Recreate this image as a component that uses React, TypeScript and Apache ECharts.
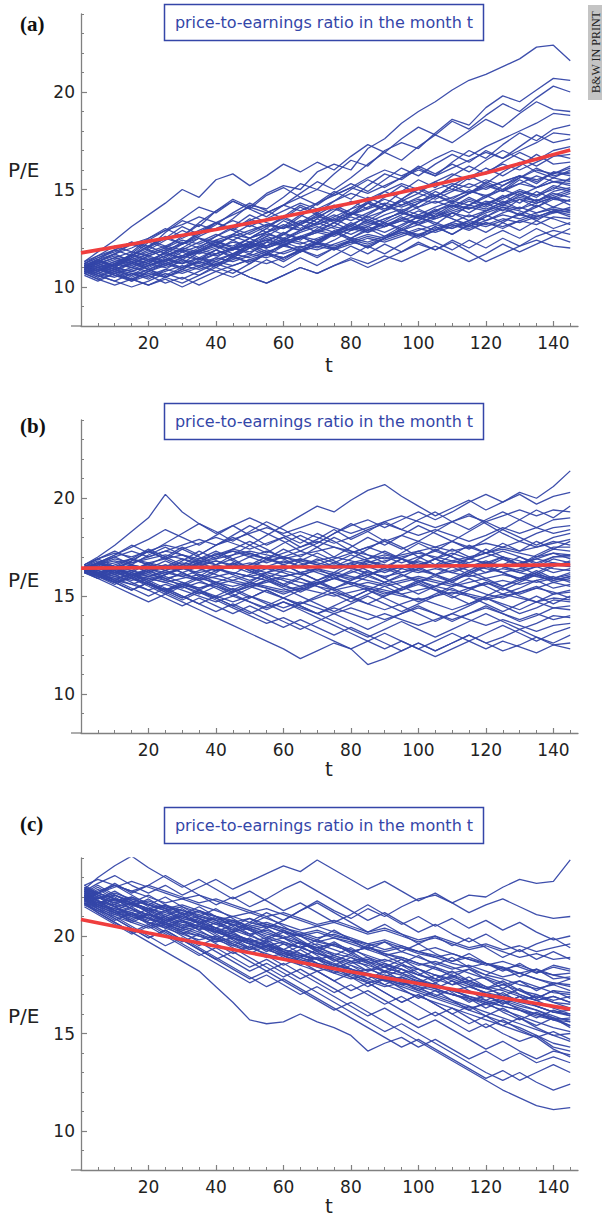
import React, { useEffect, useRef } from "react";
import * as echarts from "echarts";

// months at which each simulated path is read off the figure
const MONTHS = [1, 5, 10, 15, 20, 25, 30, 35, 40, 45, 50, 55, 60, 65, 70, 75, 80, 85, 90, 95, 100, 105, 110, 115, 120, 125, 130, 135, 140, 145];
const X_TICKS = [20, 40, 60, 80, 100, 120, 140];
const X_MINOR = [5, 10, 15, 25, 30, 35, 45, 50, 55, 65, 70, 75, 85, 90, 95, 105, 110, 115, 125, 130, 135, 145];
const Y_TICKS = [10, 15, 20];
const Y_MINOR = [8, 9, 11, 12, 13, 14, 16, 17, 18, 19, 21, 22, 23, 24];
const PANEL_LABELS = ["(a)", "(b)", "(c)"];
const TITLE = "price-to-earnings ratio in the month t";
const Y_NAME = "P/E";
const X_NAME = "t";
const STAMP = "B&W IN PRINT";

// panel (a): simulated P/E paths
const PATHS_A: number[][] = [
  [11.1, 11.4, 11.9, 12.3, 12.0, 12.8, 13.4, 13.1, 13.9, 14.5, 14.1, 14.8, 15.2, 15.0, 15.9, 16.3, 16.0, 17.1, 17.6, 18.4, 19.0, 19.5, 20.1, 20.6, 20.9, 21.3, 21.7, 22.3, 22.4, 21.6],
  [11.0, 10.8, 11.2, 11.6, 12.3, 12.0, 12.6, 13.2, 12.9, 13.5, 14.2, 14.0, 14.6, 15.3, 15.0, 15.8, 16.5, 16.2, 17.0, 17.4, 17.1, 17.9, 18.6, 18.3, 19.2, 19.8, 19.5, 20.1, 20.7, 20.6],
  [11.3, 11.8, 12.4, 13.1, 13.7, 14.3, 15.0, 14.6, 15.5, 15.8, 15.2, 15.7, 16.3, 15.9, 16.4, 16.0, 16.7, 17.3, 16.9, 17.6, 18.2, 17.8, 18.5, 18.1, 18.8, 19.4, 19.0, 19.7, 20.3, 20.0],
  [10.9, 11.3, 11.1, 11.7, 12.4, 12.9, 13.5, 14.1, 13.8, 14.4, 14.0, 13.6, 14.2, 14.8, 15.4, 15.0, 15.6, 16.3, 16.9, 16.5, 17.2, 17.8, 17.4, 18.0, 18.6, 18.2, 18.9, 19.5, 19.1, 19.0],
  [11.0, 10.7, 11.0, 11.5, 11.2, 11.8, 12.3, 12.0, 12.6, 13.1, 13.7, 13.3, 13.0, 13.6, 14.3, 14.9, 14.5, 15.2, 15.8, 15.5, 16.1, 15.7, 16.4, 17.0, 16.6, 17.3, 17.9, 17.5, 18.1, 18.3],
  [11.2, 11.6, 12.1, 11.8, 12.5, 13.0, 12.6, 13.3, 13.9, 14.4, 14.0, 14.7, 15.1, 14.6, 14.2, 14.8, 15.3, 14.9, 15.5, 16.1, 15.7, 16.3, 16.8, 16.4, 17.0, 16.6, 17.2, 17.8, 17.4, 17.6],
  [10.8, 10.5, 10.9, 10.6, 11.1, 11.5, 11.2, 11.8, 12.3, 12.0, 12.5, 13.0, 12.7, 13.3, 13.8, 13.4, 14.0, 14.6, 14.2, 14.9, 15.5, 15.1, 15.7, 16.2, 15.8, 16.4, 16.9, 16.5, 17.0, 17.2],
  [11.1, 11.4, 11.0, 11.6, 12.1, 11.7, 12.2, 12.8, 13.3, 12.9, 13.5, 13.1, 13.6, 14.2, 13.8, 14.4, 15.0, 15.5, 15.1, 15.6, 16.2, 15.8, 16.3, 15.9, 16.5, 17.0, 16.6, 16.2, 16.7, 16.8],
  [10.7, 11.0, 10.6, 10.3, 10.8, 11.2, 10.9, 11.4, 11.9, 12.4, 12.0, 12.6, 13.1, 13.7, 13.3, 13.9, 14.4, 14.0, 14.6, 15.2, 14.8, 15.4, 15.0, 15.6, 16.1, 15.7, 16.2, 16.8, 16.3, 16.4],
  [11.0, 11.3, 11.7, 12.2, 11.9, 12.4, 12.9, 12.5, 12.1, 12.7, 13.2, 12.8, 13.4, 13.0, 13.5, 14.1, 13.7, 14.3, 14.9, 14.5, 15.0, 14.6, 15.2, 15.7, 15.3, 15.9, 16.4, 15.9, 15.6, 16.0],
  [10.9, 10.6, 10.3, 10.7, 10.4, 10.9, 11.4, 11.0, 11.5, 12.0, 11.7, 12.3, 12.8, 12.4, 13.0, 13.5, 13.1, 13.7, 14.2, 13.8, 14.3, 14.9, 14.5, 15.0, 14.6, 15.2, 15.7, 15.3, 15.9, 15.7],
  [11.2, 11.5, 11.9, 11.6, 12.0, 12.5, 13.1, 12.7, 13.2, 13.8, 14.3, 13.9, 13.5, 14.1, 13.7, 14.2, 13.8, 14.4, 14.0, 14.5, 15.1, 14.7, 14.3, 14.8, 15.3, 14.9, 15.5, 15.1, 15.6, 15.4],
  [10.8, 11.1, 10.8, 11.2, 10.9, 10.5, 10.9, 11.3, 11.0, 11.5, 12.0, 11.6, 12.1, 12.6, 12.2, 12.8, 13.3, 12.9, 13.4, 13.9, 13.5, 14.0, 13.6, 14.2, 14.7, 14.3, 14.8, 14.4, 14.9, 15.1],
  [11.0, 11.4, 11.1, 11.6, 12.1, 12.6, 12.2, 12.7, 13.3, 12.9, 12.5, 13.0, 13.6, 13.2, 13.7, 13.3, 13.8, 13.4, 13.9, 14.4, 14.0, 13.6, 14.1, 14.6, 14.2, 14.7, 14.3, 14.9, 14.5, 14.8],
  [10.6, 10.3, 10.7, 10.4, 10.1, 10.5, 10.9, 10.6, 11.1, 11.6, 11.2, 11.7, 12.2, 11.8, 12.3, 12.9, 12.5, 13.0, 12.6, 13.1, 13.6, 13.2, 13.8, 13.4, 13.9, 14.4, 14.0, 14.5, 14.1, 14.5],
  [11.1, 10.8, 11.2, 11.7, 11.3, 11.8, 11.4, 11.9, 12.4, 12.0, 12.5, 12.1, 12.7, 13.2, 12.8, 13.3, 12.9, 13.5, 13.1, 13.6, 13.2, 13.7, 14.2, 13.8, 14.3, 13.9, 14.5, 14.1, 14.6, 14.2],
  [10.9, 11.2, 10.9, 10.5, 10.9, 11.3, 11.8, 11.4, 11.9, 11.5, 12.0, 12.5, 12.1, 12.6, 12.2, 12.7, 13.2, 12.8, 13.3, 12.9, 13.4, 13.9, 13.5, 13.1, 13.6, 14.1, 13.7, 14.2, 13.8, 13.9],
  [10.7, 10.4, 10.1, 10.4, 10.8, 10.5, 10.2, 10.6, 11.0, 10.7, 11.2, 11.7, 11.3, 11.8, 12.3, 11.9, 12.4, 12.0, 12.5, 13.0, 12.6, 13.1, 12.7, 13.2, 12.8, 13.3, 13.8, 13.4, 13.9, 13.6],
  [11.0, 11.3, 11.7, 11.3, 11.0, 11.4, 11.9, 11.5, 11.1, 11.6, 12.1, 11.7, 12.2, 11.8, 12.3, 12.8, 12.4, 12.0, 12.5, 13.0, 12.6, 13.1, 12.7, 13.2, 13.7, 13.3, 12.9, 13.4, 13.0, 13.3],
  [10.8, 10.5, 10.8, 10.4, 10.1, 10.4, 10.0, 10.4, 10.8, 10.5, 10.9, 11.4, 11.0, 11.5, 11.1, 11.6, 12.1, 11.7, 12.2, 11.8, 12.3, 11.9, 12.4, 12.0, 12.5, 12.9, 12.5, 13.0, 12.6, 13.0],
  [11.1, 11.4, 11.0, 11.5, 11.9, 11.5, 12.0, 12.5, 12.1, 11.7, 12.2, 11.8, 11.4, 11.9, 11.5, 12.0, 11.6, 12.1, 11.7, 12.2, 12.7, 12.3, 11.9, 12.4, 12.0, 12.5, 12.1, 12.6, 12.9, 12.7],
  [10.7, 10.4, 10.7, 10.3, 10.6, 10.2, 10.5, 10.1, 10.5, 10.9, 10.5, 10.2, 10.6, 11.0, 10.7, 11.1, 11.5, 11.2, 11.6, 11.3, 11.7, 12.1, 11.7, 11.3, 11.7, 12.2, 11.8, 12.2, 12.6, 12.3],
  [10.9, 10.6, 10.3, 10.0, 10.3, 10.7, 10.4, 10.8, 11.2, 10.9, 10.5, 10.2, 10.6, 11.0, 10.7, 11.1, 11.4, 11.0, 11.4, 11.8, 12.2, 11.9, 12.3, 11.8, 11.3, 11.7, 12.1, 12.4, 12.1, 12.0],
  [11.0, 11.2, 10.9, 11.3, 10.9, 10.6, 11.0, 11.5, 11.1, 11.6, 12.2, 12.8, 12.4, 12.9, 13.5, 13.1, 13.7, 14.3, 13.9, 14.5, 14.1, 14.6, 15.2, 14.8, 15.4, 15.0, 15.6, 16.1, 15.7, 15.9],
  [10.9, 11.1, 11.4, 11.2, 11.6, 11.3, 11.0, 11.3, 11.7, 12.0, 11.8, 12.1, 12.5, 12.3, 12.0, 12.4, 12.9, 13.1, 12.8, 13.2, 13.6, 13.3, 13.0, 13.4, 13.8, 14.1, 13.9, 13.6, 13.9, 14.0],
  [11.2, 11.0, 10.7, 11.0, 11.4, 11.7, 11.5, 11.9, 12.2, 11.9, 12.3, 12.7, 12.5, 12.9, 13.3, 13.0, 12.7, 13.1, 13.5, 13.8, 13.5, 13.9, 14.3, 14.0, 14.4, 14.2, 14.7, 14.4, 14.8, 14.6],
  [10.8, 11.0, 11.3, 11.6, 11.4, 11.1, 11.5, 11.8, 12.2, 12.6, 12.3, 12.0, 12.4, 12.8, 13.1, 12.8, 13.2, 13.6, 13.3, 13.7, 14.1, 14.4, 14.1, 14.5, 14.2, 14.6, 15.0, 14.7, 15.2, 15.0],
  [11.1, 11.3, 11.0, 10.8, 11.1, 11.4, 11.2, 11.5, 11.3, 11.7, 12.1, 12.4, 12.2, 12.5, 12.9, 13.3, 13.6, 13.3, 13.7, 14.0, 13.7, 14.1, 14.4, 14.2, 14.6, 15.0, 14.7, 15.1, 15.4, 15.3],
  [11.0, 10.8, 11.1, 11.5, 11.8, 12.1, 11.9, 12.3, 12.7, 12.4, 12.8, 13.2, 13.0, 13.4, 13.2, 13.6, 14.0, 14.3, 14.0, 14.4, 14.8, 14.5, 14.9, 15.3, 15.0, 15.4, 15.7, 15.4, 15.9, 15.8],
  [10.9, 11.2, 11.5, 11.3, 11.7, 12.0, 12.4, 12.2, 12.6, 13.0, 12.7, 13.1, 13.5, 13.2, 13.6, 14.0, 13.7, 14.1, 14.5, 14.2, 14.6, 15.0, 15.3, 15.1, 15.5, 15.2, 15.6, 16.0, 15.8, 16.2],
  [10.7, 10.9, 10.6, 10.4, 10.7, 10.5, 10.8, 11.1, 10.8, 11.1, 11.4, 11.2, 11.5, 11.9, 11.6, 12.0, 12.3, 12.1, 12.5, 12.8, 12.5, 12.9, 13.2, 12.9, 13.3, 13.0, 13.4, 13.2, 13.6, 13.5],
  [11.0, 11.3, 11.1, 11.4, 11.2, 11.6, 12.0, 11.8, 12.1, 11.9, 12.2, 12.6, 12.3, 12.0, 12.4, 12.8, 12.5, 12.9, 13.3, 13.0, 13.4, 13.8, 13.5, 13.2, 13.6, 14.0, 13.7, 14.1, 14.5, 14.4],
  [11.3, 11.6, 11.9, 12.3, 12.1, 12.5, 12.2, 12.6, 13.0, 13.4, 13.1, 13.5, 13.9, 14.3, 14.0, 14.4, 14.8, 14.5, 14.9, 15.3, 15.0, 15.4, 15.8, 15.5, 15.9, 16.3, 16.0, 16.4, 16.8, 16.6],
  [11.1, 11.4, 11.7, 12.0, 12.4, 12.1, 12.5, 12.9, 13.3, 13.0, 13.4, 13.8, 14.2, 13.9, 14.3, 14.7, 15.1, 14.8, 15.2, 15.6, 16.0, 15.7, 16.1, 16.5, 16.9, 16.6, 17.0, 17.4, 17.9, 17.8],
  [10.8, 10.6, 10.9, 10.7, 10.5, 10.8, 11.1, 10.9, 11.2, 11.5, 11.3, 11.7, 11.5, 11.9, 12.2, 12.0, 12.4, 12.7, 12.5, 12.9, 13.2, 12.9, 13.3, 13.7, 13.4, 13.8, 14.1, 13.8, 14.0, 13.8],
  [11.0, 11.2, 11.5, 11.2, 11.6, 11.9, 11.6, 12.0, 12.3, 12.1, 12.5, 12.8, 13.2, 12.9, 13.3, 13.7, 13.4, 13.8, 14.2, 13.9, 14.3, 14.7, 14.4, 14.8, 15.2, 14.9, 15.3, 15.7, 15.4, 15.5],
  [11.2, 11.5, 11.8, 12.2, 12.5, 12.9, 13.2, 13.6, 13.3, 13.7, 14.1, 13.8, 14.2, 14.6, 15.0, 14.7, 15.1, 15.6, 16.0, 15.7, 16.1, 16.6, 17.0, 16.7, 17.2, 17.6, 18.0, 18.4, 18.9, 18.8],
  [10.9, 10.7, 11.0, 10.8, 11.1, 11.4, 11.2, 11.5, 11.9, 11.6, 12.0, 12.3, 12.1, 12.5, 12.8, 12.6, 13.0, 13.4, 13.1, 13.5, 13.9, 13.6, 14.0, 14.4, 14.1, 14.5, 14.9, 14.6, 15.1, 14.9],
  [11.0, 10.8, 11.1, 11.3, 11.1, 11.4, 11.6, 11.4, 11.7, 12.0, 12.2, 12.0, 12.3, 12.6, 12.4, 12.7, 13.0, 12.8, 13.1, 13.4, 13.2, 13.5, 13.8, 13.6, 13.9, 14.2, 14.0, 14.3, 14.6, 14.4],
  [10.8, 11.0, 10.8, 10.6, 10.9, 11.2, 11.0, 11.3, 11.1, 11.4, 11.7, 11.5, 11.8, 12.1, 11.9, 12.2, 12.5, 12.3, 12.6, 12.9, 12.7, 13.0, 13.3, 13.1, 13.4, 13.7, 13.5, 13.8, 14.1, 13.9],
  [11.1, 11.3, 11.6, 11.4, 11.7, 12.0, 11.8, 12.1, 12.4, 12.7, 12.5, 12.8, 13.1, 12.9, 13.2, 13.5, 13.8, 13.6, 13.9, 14.2, 14.5, 14.3, 14.6, 14.9, 14.7, 15.0, 15.3, 15.1, 15.4, 15.2],
  [10.9, 11.1, 10.9, 11.2, 11.5, 11.3, 11.6, 11.9, 11.7, 12.0, 12.3, 12.1, 12.4, 12.2, 12.5, 12.8, 13.1, 12.9, 13.2, 13.5, 13.3, 13.6, 13.9, 14.2, 14.0, 14.3, 14.6, 14.4, 14.7, 15.0],
  [11.2, 11.0, 11.3, 11.1, 11.4, 11.2, 11.5, 11.8, 11.6, 11.9, 12.2, 12.0, 12.3, 12.6, 12.9, 12.7, 13.0, 13.3, 13.1, 13.4, 13.7, 13.5, 13.8, 14.1, 13.9, 14.2, 14.5, 14.3, 14.6, 14.9],
  [10.7, 10.9, 10.7, 10.9, 11.2, 11.0, 11.3, 11.1, 11.4, 11.7, 11.5, 11.8, 12.1, 11.9, 12.2, 12.0, 12.3, 12.6, 12.4, 12.7, 13.0, 12.8, 13.1, 13.4, 13.2, 13.5, 13.3, 13.6, 13.9, 13.7],
  [11.0, 11.2, 11.5, 11.8, 11.6, 11.9, 12.2, 12.5, 12.3, 12.6, 12.9, 13.2, 13.0, 13.3, 13.6, 13.4, 13.7, 14.0, 14.3, 14.1, 14.4, 14.7, 15.0, 14.8, 15.1, 15.4, 15.7, 15.5, 15.8, 16.1],
  [10.9, 10.7, 10.5, 10.8, 10.6, 10.9, 10.7, 11.0, 11.3, 11.1, 11.4, 11.7, 11.5, 11.8, 12.1, 11.9, 12.2, 12.5, 12.3, 12.6, 12.9, 13.2, 13.0, 13.3, 13.1, 13.4, 13.7, 13.5, 13.8, 14.1],
  [11.1, 10.9, 11.2, 11.0, 11.3, 11.6, 11.9, 11.7, 12.0, 12.3, 12.1, 12.4, 12.7, 12.5, 12.8, 13.1, 12.9, 13.2, 13.5, 13.8, 13.6, 13.9, 14.2, 14.0, 14.3, 14.6, 14.9, 14.7, 15.0, 15.6],
  [10.8, 11.0, 11.2, 11.0, 10.8, 11.1, 11.4, 11.2, 11.5, 11.3, 11.6, 11.9, 11.7, 12.0, 12.3, 12.1, 12.4, 12.2, 12.5, 12.8, 12.6, 12.9, 13.2, 13.0, 13.3, 13.1, 13.4, 13.7, 13.5, 13.2],
];
const MEAN_T_A = [0, 20, 40, 60, 80, 100, 120, 145];
const MEAN_A = [11.75, 12.35, 12.95, 13.6, 14.3, 15.05, 15.85, 17.02];

// panel (b)
const PATHS_B: number[][] = [
  [16.4, 16.7, 16.3, 16.8, 17.3, 16.9, 17.4, 17.0, 16.6, 17.1, 17.6, 17.2, 17.7, 18.1, 17.7, 18.2, 18.6, 18.9, 18.5, 18.9, 19.3, 18.9, 19.3, 19.8, 20.2, 19.8, 20.3, 20.0, 20.6, 21.4],
  [16.5, 16.9, 17.3, 16.9, 17.4, 17.0, 16.6, 17.1, 17.6, 18.0, 17.6, 18.1, 18.6, 19.1, 19.6, 19.3, 19.9, 20.4, 20.7, 20.1, 19.6, 19.1, 19.5, 19.9, 19.4, 19.8, 20.2, 19.7, 20.1, 20.3],
  [16.6, 17.0, 17.6, 18.3, 19.0, 20.2, 19.3, 18.7, 18.2, 18.6, 18.1, 17.6, 18.0, 17.5, 17.9, 18.4, 17.9, 18.3, 18.8, 18.4, 18.9, 19.3, 18.8, 18.4, 18.9, 19.3, 18.9, 19.4, 19.0, 19.6],
  [16.3, 16.7, 17.1, 17.6, 17.2, 17.7, 18.2, 18.7, 18.3, 17.8, 18.3, 18.8, 18.4, 17.9, 17.5, 17.0, 17.5, 18.0, 17.6, 18.1, 18.6, 18.2, 17.8, 18.3, 18.8, 18.4, 18.9, 18.5, 18.9, 19.0],
  [16.4, 16.1, 16.5, 16.9, 16.6, 17.0, 17.5, 17.1, 17.6, 18.1, 18.6, 18.2, 17.8, 17.3, 17.7, 18.2, 18.7, 18.3, 17.8, 17.4, 17.8, 18.3, 18.8, 19.2, 18.7, 18.2, 17.8, 18.2, 18.5, 18.6],
  [16.2, 16.5, 16.1, 16.6, 17.1, 17.5, 17.1, 16.7, 17.2, 16.8, 16.4, 16.9, 17.4, 17.0, 17.5, 18.0, 17.6, 17.1, 16.7, 17.2, 17.7, 17.3, 17.8, 17.4, 17.9, 18.4, 18.0, 17.6, 18.0, 18.2],
  [16.5, 16.2, 15.8, 16.2, 16.7, 16.3, 16.8, 17.3, 16.9, 17.4, 17.8, 17.4, 16.9, 16.5, 16.9, 16.5, 16.9, 17.4, 17.9, 17.5, 17.0, 16.6, 17.1, 17.6, 17.2, 17.7, 17.3, 17.8, 17.4, 17.8],
  [16.3, 16.6, 17.0, 16.6, 16.2, 16.6, 16.2, 15.8, 16.2, 16.7, 16.3, 15.9, 16.3, 16.8, 17.2, 16.8, 16.4, 16.8, 16.4, 16.9, 17.3, 16.9, 16.5, 16.9, 17.4, 17.0, 16.6, 17.1, 17.5, 17.5],
  [16.4, 16.0, 15.6, 16.0, 15.6, 15.2, 15.6, 16.0, 16.5, 16.1, 16.6, 17.0, 16.6, 16.2, 15.8, 16.2, 16.7, 16.3, 15.9, 16.4, 16.9, 17.4, 17.0, 16.6, 16.2, 16.6, 17.0, 16.6, 17.0, 17.1],
  [16.5, 16.8, 16.4, 16.0, 16.4, 16.8, 16.4, 16.9, 17.3, 16.9, 16.4, 16.0, 15.6, 16.0, 16.4, 16.0, 15.6, 16.0, 16.5, 16.9, 16.5, 16.1, 16.5, 16.1, 16.5, 16.9, 16.5, 16.1, 16.5, 16.8],
  [16.3, 16.0, 16.4, 16.8, 17.3, 16.9, 16.5, 16.0, 15.6, 15.2, 15.6, 16.0, 15.6, 15.2, 15.6, 16.1, 16.5, 16.1, 15.7, 15.3, 15.7, 16.1, 15.7, 16.2, 16.6, 16.2, 15.8, 16.2, 16.6, 16.5],
  [16.4, 16.1, 15.7, 15.3, 15.7, 15.3, 14.9, 15.3, 15.7, 15.3, 15.7, 16.2, 16.6, 16.2, 15.8, 15.4, 15.8, 16.3, 15.9, 15.5, 15.1, 15.5, 15.9, 16.3, 15.9, 15.5, 15.9, 16.3, 15.9, 16.2],
  [16.6, 16.9, 16.5, 16.1, 15.7, 16.1, 16.5, 16.1, 15.7, 15.3, 14.9, 15.3, 14.9, 15.3, 15.7, 15.3, 14.9, 15.3, 15.7, 16.1, 15.7, 15.3, 14.9, 15.3, 15.7, 15.3, 15.7, 16.1, 15.7, 15.9],
  [16.2, 15.9, 16.3, 15.9, 15.5, 15.1, 15.5, 15.9, 16.3, 16.7, 16.3, 15.9, 15.5, 15.9, 15.5, 15.1, 14.7, 15.1, 15.5, 15.1, 14.7, 15.1, 15.5, 15.9, 15.5, 15.1, 15.4, 15.8, 15.4, 15.6],
  [16.5, 16.2, 15.8, 15.4, 15.0, 15.4, 15.0, 14.6, 15.0, 15.4, 15.0, 14.6, 14.2, 14.6, 15.0, 15.4, 15.0, 14.6, 15.0, 15.4, 15.8, 15.4, 15.0, 14.6, 15.0, 15.4, 15.0, 14.7, 15.1, 15.3],
  [16.3, 16.6, 16.2, 16.6, 16.2, 15.8, 16.2, 15.8, 15.4, 15.0, 15.4, 15.8, 15.4, 15.0, 14.6, 14.2, 14.6, 15.0, 14.6, 14.2, 14.6, 15.0, 15.4, 15.0, 14.6, 14.2, 14.6, 15.0, 14.6, 15.0],
  [16.4, 16.1, 15.7, 15.3, 15.7, 15.3, 15.7, 15.3, 14.9, 14.5, 14.1, 14.5, 14.9, 14.5, 14.1, 14.5, 14.9, 15.3, 14.9, 14.5, 14.1, 13.7, 14.1, 14.5, 14.9, 14.5, 14.1, 14.4, 14.8, 14.7],
  [16.2, 16.5, 16.1, 15.7, 15.3, 14.9, 14.5, 14.9, 14.5, 14.1, 14.5, 14.1, 13.7, 13.3, 13.7, 14.1, 13.7, 13.3, 13.7, 14.1, 14.5, 14.1, 13.7, 14.1, 14.5, 14.1, 13.7, 14.0, 14.4, 14.3],
  [16.5, 16.1, 15.7, 16.1, 15.7, 15.3, 14.9, 15.3, 14.9, 14.5, 14.9, 15.3, 14.9, 14.5, 14.1, 13.7, 13.3, 12.9, 13.3, 13.7, 13.3, 12.9, 13.3, 13.7, 14.1, 13.7, 13.3, 13.6, 14.0, 13.9],
  [16.3, 15.9, 15.5, 15.1, 14.7, 15.1, 14.7, 14.3, 13.9, 13.5, 13.1, 12.7, 12.3, 11.8, 12.2, 12.6, 12.3, 12.7, 13.1, 12.7, 12.3, 12.7, 13.1, 12.7, 13.1, 13.5, 13.1, 12.7, 13.1, 13.4],
  [16.4, 16.0, 16.4, 16.0, 15.6, 15.2, 14.8, 15.2, 14.8, 14.4, 14.0, 13.6, 13.9, 13.5, 13.1, 12.7, 12.3, 11.5, 11.8, 12.2, 12.6, 12.2, 12.6, 13.0, 12.6, 12.9, 13.3, 12.9, 12.6, 13.0],
  [16.6, 16.2, 15.8, 16.2, 15.8, 15.4, 15.0, 14.6, 14.2, 14.6, 14.2, 13.8, 13.4, 13.8, 13.4, 13.0, 13.4, 13.0, 12.6, 12.2, 12.6, 12.2, 12.6, 13.0, 12.6, 12.2, 12.5, 12.9, 12.5, 12.6],
  [16.4, 16.7, 16.3, 15.9, 16.3, 15.9, 15.5, 15.1, 15.5, 15.1, 14.7, 14.3, 14.7, 14.3, 13.9, 13.5, 13.1, 12.7, 12.3, 12.7, 12.3, 11.9, 12.3, 12.7, 12.3, 12.7, 12.4, 12.1, 12.5, 12.3],
  [16.3, 16.7, 17.1, 17.5, 17.9, 18.4, 18.0, 17.6, 18.1, 18.6, 19.0, 18.6, 18.1, 17.7, 18.2, 17.8, 17.3, 16.9, 17.3, 16.9, 16.5, 16.9, 17.4, 17.0, 16.6, 17.0, 16.6, 17.0, 17.4, 17.3],
  [16.4, 16.2, 16.5, 16.3, 16.0, 16.3, 16.6, 16.4, 16.1, 15.8, 16.1, 16.4, 16.2, 15.9, 15.6, 15.9, 16.3, 16.0, 15.7, 16.0, 16.4, 16.1, 15.8, 16.2, 16.5, 16.2, 15.9, 16.2, 15.8, 16.0],
  [16.5, 16.3, 16.0, 16.3, 16.7, 16.5, 16.9, 16.6, 16.3, 16.6, 17.0, 17.3, 17.0, 16.7, 16.4, 16.7, 17.1, 16.8, 16.5, 16.2, 16.5, 16.9, 16.6, 16.3, 16.7, 17.0, 16.8, 16.5, 16.9, 16.7],
  [16.3, 16.1, 15.8, 15.6, 15.9, 15.7, 15.4, 15.7, 15.5, 15.2, 15.5, 15.8, 15.5, 15.3, 15.6, 15.9, 15.6, 15.3, 15.0, 15.3, 15.6, 15.3, 15.1, 15.4, 15.1, 14.9, 15.2, 15.5, 15.1, 15.2],
  [16.4, 16.6, 16.9, 16.7, 17.0, 17.3, 17.1, 16.8, 17.1, 17.4, 17.2, 16.9, 17.2, 17.5, 17.8, 17.5, 17.2, 17.5, 17.8, 18.1, 17.8, 17.5, 17.8, 17.5, 17.2, 17.5, 17.8, 17.5, 17.8, 17.6],
  [16.2, 16.0, 15.7, 15.9, 15.6, 15.3, 15.5, 15.2, 14.9, 15.2, 15.5, 15.2, 14.9, 14.6, 14.9, 15.2, 14.9, 14.6, 14.3, 14.6, 14.9, 14.6, 14.3, 14.6, 14.9, 14.6, 14.3, 14.7, 14.4, 14.5],
  [16.6, 16.9, 17.2, 17.0, 17.3, 17.6, 17.4, 17.7, 18.0, 17.7, 17.4, 17.7, 18.0, 18.3, 18.0, 17.7, 18.0, 18.4, 18.7, 18.4, 18.1, 18.4, 18.1, 17.8, 18.1, 18.5, 18.2, 18.5, 18.2, 18.4],
  [16.4, 16.1, 16.4, 16.1, 15.8, 16.1, 16.4, 16.7, 16.4, 16.1, 15.8, 16.1, 15.8, 15.5, 15.8, 16.1, 15.8, 16.1, 16.4, 16.1, 15.8, 15.5, 15.8, 16.1, 15.8, 15.5, 15.8, 16.1, 15.9, 15.8],
  [16.3, 16.5, 16.2, 15.9, 16.2, 16.5, 16.2, 16.5, 16.8, 16.5, 16.2, 16.5, 16.8, 16.5, 16.2, 15.9, 16.2, 16.5, 16.2, 16.5, 16.8, 16.5, 16.2, 16.5, 16.8, 16.5, 16.2, 16.5, 16.2, 16.4],
  [16.5, 16.2, 15.9, 15.6, 15.3, 15.6, 15.3, 15.0, 14.7, 15.0, 14.7, 14.4, 14.7, 14.4, 14.1, 14.4, 14.1, 13.8, 14.1, 13.8, 13.5, 13.8, 14.1, 13.8, 13.5, 13.8, 13.5, 13.2, 13.5, 13.6],
  [16.4, 16.7, 16.4, 16.1, 16.4, 16.1, 16.4, 16.7, 17.0, 17.3, 17.0, 16.7, 17.0, 17.3, 17.0, 16.7, 16.4, 16.7, 17.0, 16.7, 17.0, 17.3, 17.0, 16.7, 17.0, 17.3, 17.0, 16.7, 17.0, 17.0],
  [16.3, 16.0, 15.7, 16.0, 16.3, 16.0, 15.7, 15.4, 15.7, 16.0, 15.7, 15.4, 15.1, 15.4, 15.7, 15.4, 15.7, 15.4, 15.1, 15.4, 15.7, 16.0, 15.7, 15.4, 15.7, 15.4, 15.1, 15.4, 15.7, 15.5],
  [16.4, 16.7, 17.0, 17.3, 17.0, 17.3, 17.6, 17.9, 17.6, 17.9, 18.2, 18.5, 18.2, 18.5, 18.8, 18.5, 18.2, 18.5, 18.8, 19.1, 18.8, 18.5, 18.8, 19.1, 18.8, 19.1, 19.4, 19.1, 19.4, 19.3],
  [16.2, 15.9, 16.2, 15.9, 15.6, 15.3, 15.6, 15.3, 15.0, 14.7, 15.0, 14.7, 14.4, 14.7, 14.4, 14.1, 14.4, 14.1, 13.8, 14.1, 14.4, 14.1, 13.8, 14.1, 14.4, 14.1, 13.8, 14.1, 13.8, 14.0],
  [16.6, 16.3, 16.6, 16.9, 16.6, 16.3, 16.0, 16.3, 16.6, 16.9, 17.2, 16.9, 16.6, 16.9, 16.6, 16.9, 17.2, 17.5, 17.2, 16.9, 16.6, 16.9, 17.2, 16.9, 17.2, 16.9, 16.6, 16.9, 17.2, 16.9],
  [16.4, 16.2, 16.4, 16.6, 16.4, 16.2, 16.4, 16.6, 16.8, 16.6, 16.4, 16.2, 16.0, 16.2, 16.4, 16.6, 16.4, 16.2, 16.0, 16.2, 16.4, 16.6, 16.8, 16.6, 16.4, 16.2, 16.4, 16.6, 16.4, 16.3],
  [16.3, 16.1, 15.9, 16.1, 15.9, 15.7, 15.9, 16.1, 15.9, 15.7, 15.5, 15.7, 15.9, 15.7, 15.5, 15.3, 15.5, 15.7, 15.5, 15.7, 15.9, 15.7, 15.5, 15.7, 15.9, 16.1, 15.9, 15.7, 15.9, 16.1],
  [16.5, 16.7, 16.5, 16.7, 16.9, 17.1, 16.9, 16.7, 16.9, 17.1, 17.3, 17.1, 16.9, 17.1, 17.3, 17.5, 17.3, 17.1, 16.9, 17.1, 17.3, 17.5, 17.3, 17.5, 17.7, 17.5, 17.3, 17.5, 17.7, 17.9],
  [16.4, 16.2, 16.0, 15.8, 16.0, 15.8, 15.6, 15.4, 15.6, 15.8, 15.6, 15.4, 15.2, 15.4, 15.2, 15.0, 15.2, 15.4, 15.2, 15.0, 14.8, 15.0, 15.2, 15.0, 14.8, 15.0, 15.2, 15.4, 15.2, 14.9],
  [16.3, 16.5, 16.3, 16.1, 16.3, 16.5, 16.7, 16.5, 16.3, 16.5, 16.7, 16.5, 16.3, 16.1, 16.3, 16.1, 15.9, 16.1, 16.3, 16.5, 16.3, 16.1, 16.3, 16.5, 16.7, 16.5, 16.7, 16.9, 16.7, 16.5],
  [16.4, 16.6, 16.8, 16.6, 16.4, 16.6, 16.4, 16.2, 16.4, 16.2, 16.0, 16.2, 16.4, 16.6, 16.8, 17.0, 16.8, 16.6, 16.8, 17.0, 17.2, 17.0, 16.8, 17.0, 17.2, 17.4, 17.2, 17.0, 17.2, 17.1],
  [16.5, 16.3, 16.1, 16.3, 16.1, 15.9, 16.1, 15.9, 15.7, 15.5, 15.7, 15.5, 15.3, 15.5, 15.7, 15.9, 15.7, 15.5, 15.3, 15.1, 15.3, 15.5, 15.3, 15.1, 14.9, 15.1, 14.9, 14.7, 14.9, 14.8],
  [16.2, 16.4, 16.2, 16.4, 16.6, 16.4, 16.6, 16.8, 16.6, 16.4, 16.6, 16.8, 17.0, 16.8, 16.6, 16.4, 16.6, 16.8, 16.6, 16.4, 16.2, 16.4, 16.2, 16.0, 16.2, 16.4, 16.2, 16.0, 15.8, 16.0],
  [16.4, 16.2, 16.4, 16.2, 16.0, 16.2, 16.0, 15.8, 16.0, 16.2, 16.0, 15.8, 16.0, 16.2, 16.4, 16.2, 16.0, 15.8, 15.6, 15.8, 16.0, 15.8, 15.6, 15.4, 15.6, 15.8, 15.6, 15.8, 16.0, 15.7],
  [16.3, 16.5, 16.7, 16.9, 16.7, 16.9, 17.1, 16.9, 17.1, 17.3, 17.1, 16.9, 16.7, 16.9, 16.7, 16.5, 16.7, 16.9, 17.1, 16.9, 16.7, 16.5, 16.7, 16.9, 16.7, 16.5, 16.3, 16.5, 16.7, 16.6],
];
const MEAN_T_B = [0, 40, 80, 120, 145];
const MEAN_B = [16.43, 16.47, 16.5, 16.56, 16.6];

// panel (c)
const PATHS_C: number[][] = [
  [22.1, 22.5, 22.0, 21.5, 21.9, 21.4, 20.9, 21.3, 20.8, 20.3, 20.7, 21.2, 20.8, 21.3, 21.8, 21.3, 20.9, 21.4, 21.0, 21.5, 21.9, 22.1, 21.7, 22.1, 22.0, 22.5, 22.9, 22.7, 22.8, 23.9],
  [22.3, 22.7, 23.1, 22.6, 22.2, 22.6, 22.1, 22.5, 22.9, 22.4, 22.8, 23.2, 23.6, 23.3, 23.9, 23.4, 22.9, 22.4, 22.8, 22.3, 21.8, 22.2, 21.7, 21.2, 21.6, 21.9, 21.5, 21.1, 20.9, 21.0],
  [22.4, 23.0, 23.6, 24.1, 23.5, 23.0, 22.5, 22.9, 22.4, 21.9, 22.3, 21.8, 21.3, 21.7, 21.2, 20.7, 21.1, 21.6, 21.1, 20.6, 21.0, 20.5, 20.9, 20.4, 20.8, 20.3, 20.7, 20.2, 19.8, 20.0],
  [21.8, 22.2, 22.7, 22.2, 22.6, 23.1, 22.6, 22.1, 21.6, 22.0, 21.5, 21.9, 22.4, 22.8, 22.3, 21.8, 21.3, 20.8, 21.2, 20.7, 20.2, 20.6, 20.1, 19.7, 20.1, 19.6, 19.2, 19.6, 19.9, 19.4],
  [22.0, 21.6, 22.1, 21.7, 21.2, 21.6, 21.1, 21.5, 21.0, 20.5, 20.9, 20.4, 20.8, 21.3, 21.7, 21.2, 20.7, 20.2, 20.6, 20.1, 19.6, 20.0, 19.5, 19.9, 19.4, 18.9, 19.3, 18.8, 19.2, 18.8],
  [22.2, 22.6, 22.1, 21.7, 22.1, 21.6, 21.1, 20.6, 21.0, 20.5, 20.0, 20.4, 19.9, 19.4, 19.8, 20.3, 19.8, 19.3, 19.7, 19.2, 19.6, 19.1, 18.7, 19.1, 18.6, 18.2, 18.6, 18.1, 18.5, 18.3],
  [21.6, 22.0, 21.5, 21.1, 20.6, 21.0, 21.4, 20.9, 20.4, 20.8, 20.3, 19.8, 20.2, 19.7, 19.2, 19.6, 19.1, 19.5, 19.0, 18.6, 19.0, 18.5, 18.9, 18.4, 18.0, 18.4, 17.9, 18.3, 17.8, 17.9],
  [22.5, 22.1, 21.6, 22.0, 21.5, 21.0, 20.5, 20.9, 20.4, 19.9, 19.4, 19.8, 19.3, 19.7, 19.2, 18.7, 19.1, 18.6, 18.1, 18.5, 18.0, 18.4, 17.9, 18.3, 17.8, 17.3, 17.7, 17.2, 17.6, 17.5],
  [21.9, 21.5, 21.9, 21.4, 20.9, 21.3, 20.8, 20.3, 20.7, 20.2, 20.6, 21.0, 20.5, 20.0, 19.5, 19.0, 19.4, 18.9, 18.4, 18.8, 18.3, 17.8, 18.2, 17.7, 17.3, 17.7, 17.2, 16.8, 17.2, 17.1],
  [22.1, 21.7, 21.2, 20.7, 21.1, 20.6, 20.1, 20.5, 20.0, 19.5, 19.9, 19.4, 18.9, 19.3, 18.8, 18.3, 18.7, 18.2, 18.6, 18.1, 17.6, 18.0, 17.5, 17.9, 17.4, 16.9, 17.3, 16.8, 17.2, 16.8],
  [22.3, 21.9, 22.3, 21.8, 21.3, 20.8, 21.2, 20.7, 20.2, 20.6, 20.1, 19.6, 19.1, 19.5, 19.0, 18.5, 18.9, 18.4, 17.9, 18.3, 17.8, 17.3, 17.7, 17.2, 16.7, 17.1, 16.6, 17.0, 16.6, 16.5],
  [21.7, 21.3, 20.8, 21.2, 20.7, 20.2, 19.7, 20.1, 19.6, 19.1, 19.5, 19.0, 18.5, 18.9, 19.3, 18.8, 18.3, 17.8, 18.2, 17.7, 17.2, 17.6, 17.1, 16.6, 17.0, 16.5, 16.9, 16.4, 16.1, 16.2],
  [22.0, 22.4, 21.9, 21.4, 20.9, 20.4, 20.8, 20.3, 19.8, 20.2, 19.7, 19.2, 19.6, 19.1, 18.6, 18.1, 18.5, 18.0, 17.5, 17.9, 17.4, 16.9, 17.3, 16.8, 16.3, 16.7, 16.2, 15.8, 16.2, 15.9],
  [22.2, 21.8, 21.3, 21.7, 21.2, 20.7, 21.1, 20.6, 20.1, 19.6, 19.1, 19.5, 19.0, 18.5, 18.9, 18.4, 17.9, 17.4, 17.8, 17.3, 16.8, 17.2, 16.7, 16.2, 16.6, 16.1, 15.7, 16.1, 15.7, 15.6],
  [21.5, 21.1, 20.6, 20.1, 20.5, 20.0, 19.5, 19.0, 19.4, 18.9, 18.4, 18.8, 18.3, 17.8, 18.2, 17.7, 17.2, 17.6, 17.1, 16.6, 17.0, 16.5, 16.0, 16.4, 15.9, 16.3, 15.8, 15.4, 15.8, 15.3],
  [22.4, 22.0, 21.5, 21.0, 21.4, 20.9, 20.4, 20.8, 20.3, 19.8, 19.3, 19.7, 19.2, 18.7, 18.2, 17.7, 18.1, 17.6, 17.1, 16.6, 17.0, 16.5, 16.0, 15.5, 15.9, 15.4, 15.8, 15.3, 14.9, 15.0],
  [21.8, 21.4, 20.9, 20.4, 19.9, 20.3, 19.8, 19.3, 18.8, 19.2, 18.7, 18.2, 18.6, 18.1, 17.6, 17.1, 17.5, 17.0, 16.5, 16.9, 16.4, 15.9, 16.3, 15.8, 15.3, 15.7, 15.2, 14.8, 15.1, 14.7],
  [22.1, 21.6, 21.1, 21.5, 21.0, 20.5, 20.0, 19.5, 19.9, 19.4, 18.9, 18.4, 17.9, 18.3, 17.8, 17.3, 16.8, 17.2, 16.7, 16.2, 15.7, 16.1, 15.6, 15.1, 15.5, 15.0, 14.6, 14.9, 14.5, 14.3],
  [21.6, 21.2, 20.7, 20.2, 20.6, 20.1, 19.6, 19.1, 18.6, 18.1, 17.6, 18.0, 17.5, 17.0, 17.4, 16.9, 16.4, 15.9, 16.3, 15.8, 15.3, 15.7, 15.2, 14.7, 14.2, 14.6, 14.1, 13.7, 14.1, 13.9],
  [21.7, 21.2, 20.7, 20.2, 19.7, 19.2, 18.7, 18.2, 17.4, 16.6, 15.7, 15.5, 15.6, 16.0, 15.6, 15.3, 14.9, 14.1, 14.5, 14.8, 14.3, 14.7, 14.2, 13.7, 14.1, 13.6, 14.0, 13.5, 13.8, 13.5],
  [22.0, 21.5, 21.0, 20.5, 20.0, 19.5, 19.9, 19.4, 18.9, 18.4, 17.9, 17.4, 17.8, 17.3, 16.8, 16.3, 15.8, 15.3, 14.8, 14.3, 14.7, 14.2, 13.7, 13.2, 12.7, 13.1, 12.6, 13.0, 13.4, 13.0],
  [22.3, 21.8, 21.3, 20.8, 21.2, 20.7, 20.2, 19.7, 19.2, 18.7, 18.2, 18.6, 18.1, 17.6, 17.1, 16.6, 16.1, 15.6, 15.1, 15.5, 15.0, 14.5, 14.0, 13.5, 13.0, 12.6, 13.0, 12.5, 12.1, 12.4],
  [21.9, 21.4, 20.9, 20.4, 19.9, 20.3, 19.8, 19.3, 18.8, 18.3, 17.8, 18.2, 17.7, 17.2, 16.7, 16.2, 16.6, 16.1, 15.6, 15.1, 14.6, 14.1, 13.6, 13.1, 12.6, 12.1, 11.7, 11.3, 11.1, 11.2],
  [22.6, 22.2, 22.6, 22.1, 21.6, 22.0, 21.5, 21.0, 21.4, 20.9, 20.4, 19.9, 20.3, 19.8, 19.3, 19.7, 19.2, 18.7, 18.2, 18.6, 18.1, 17.6, 18.0, 17.5, 17.0, 16.5, 16.9, 16.4, 16.1, 16.0],
  [22.1, 21.8, 21.5, 21.7, 21.4, 21.1, 20.8, 21.0, 20.7, 20.4, 20.1, 20.3, 20.0, 19.7, 19.4, 19.6, 19.3, 19.0, 18.7, 18.9, 18.6, 18.3, 18.0, 17.7, 17.9, 17.6, 17.0, 16.7, 16.3, 16.0],
  [21.9, 22.2, 21.9, 21.6, 21.3, 21.5, 21.2, 20.9, 20.6, 20.8, 20.5, 20.2, 19.9, 20.1, 19.8, 19.5, 19.2, 19.4, 19.1, 18.8, 18.5, 18.7, 18.4, 18.1, 17.8, 17.5, 17.7, 17.4, 17.1, 17.0],
  [22.3, 22.0, 21.7, 21.4, 21.1, 20.8, 21.0, 20.7, 20.4, 20.1, 19.8, 19.5, 19.7, 19.4, 19.1, 18.8, 18.5, 18.2, 18.4, 18.1, 17.8, 17.5, 17.2, 16.9, 16.6, 16.8, 16.5, 16.2, 15.8, 15.4],
  [22.0, 22.3, 22.6, 22.3, 22.0, 21.7, 21.9, 21.6, 21.3, 21.0, 21.2, 20.9, 20.6, 20.3, 20.5, 20.2, 19.9, 19.6, 19.8, 19.5, 19.2, 19.4, 19.1, 18.8, 18.5, 18.7, 18.4, 18.1, 18.4, 18.2],
  [21.8, 21.5, 21.2, 20.9, 21.1, 20.8, 20.5, 20.2, 19.9, 19.6, 19.3, 19.5, 19.2, 18.9, 18.6, 18.3, 18.0, 17.7, 17.4, 17.6, 17.3, 17.0, 16.7, 16.4, 16.1, 15.8, 15.5, 15.2, 14.9, 14.6],
  [22.2, 21.9, 22.2, 21.9, 21.6, 21.3, 21.0, 20.7, 20.9, 20.6, 20.3, 20.0, 19.7, 19.4, 19.6, 19.3, 19.0, 18.7, 18.4, 18.1, 18.3, 18.0, 17.7, 17.4, 17.1, 17.3, 17.0, 16.7, 16.9, 16.6],
  [22.4, 22.1, 21.8, 22.0, 21.7, 21.4, 21.6, 21.3, 21.0, 20.7, 20.4, 20.6, 20.3, 20.0, 19.7, 19.9, 19.6, 19.3, 19.0, 19.2, 18.9, 18.6, 18.3, 18.5, 18.2, 17.9, 18.1, 17.8, 17.5, 17.8],
  [21.7, 21.4, 21.1, 20.8, 20.5, 20.7, 20.4, 20.1, 19.8, 19.5, 19.2, 18.9, 19.1, 18.8, 18.5, 18.2, 17.9, 17.6, 17.8, 17.5, 17.2, 16.9, 16.6, 16.3, 16.5, 16.2, 15.9, 15.6, 15.3, 15.1],
  [22.6, 22.9, 22.6, 22.3, 22.6, 22.3, 22.0, 21.7, 21.9, 21.6, 21.3, 21.0, 21.2, 20.9, 20.6, 20.8, 20.5, 20.2, 20.4, 20.1, 19.8, 20.0, 19.7, 19.4, 19.6, 19.3, 19.5, 19.2, 19.4, 19.6],
  [21.9, 21.6, 21.3, 21.0, 20.7, 20.4, 20.1, 19.8, 20.0, 19.7, 19.4, 19.1, 18.8, 18.5, 18.2, 18.4, 18.1, 17.8, 17.5, 17.2, 16.9, 16.6, 16.3, 16.0, 15.7, 15.4, 15.1, 14.8, 14.2, 13.8],
  [22.0, 21.7, 21.9, 21.6, 21.3, 21.0, 20.7, 20.9, 20.6, 20.3, 20.0, 19.7, 19.9, 19.6, 19.3, 19.0, 18.7, 18.9, 18.6, 18.3, 18.0, 17.7, 17.9, 17.6, 17.3, 17.0, 16.7, 16.9, 16.6, 16.3],
  [22.5, 22.2, 22.5, 22.8, 22.5, 22.2, 21.9, 22.1, 21.8, 21.5, 21.2, 21.4, 21.1, 20.8, 20.5, 20.7, 20.4, 20.1, 20.3, 20.0, 19.7, 19.9, 19.6, 19.3, 19.5, 19.2, 18.9, 19.1, 18.8, 18.9],
  [21.6, 21.3, 21.0, 20.7, 20.4, 20.6, 20.3, 20.0, 19.7, 19.9, 19.6, 19.3, 19.0, 18.7, 18.9, 18.6, 18.3, 18.0, 17.7, 17.9, 17.6, 17.3, 17.0, 16.7, 16.9, 16.6, 16.3, 16.0, 15.7, 15.8],
  [22.1, 21.8, 21.5, 21.2, 20.9, 20.6, 20.3, 20.5, 20.2, 19.9, 19.6, 19.3, 19.0, 18.7, 18.4, 18.1, 17.8, 18.0, 17.7, 17.4, 17.1, 16.8, 16.5, 16.2, 15.9, 15.6, 15.3, 14.9, 14.3, 14.1],
  [22.0, 21.8, 21.6, 21.3, 21.1, 20.9, 20.6, 20.4, 20.2, 19.9, 19.7, 19.5, 19.2, 19.0, 18.8, 18.5, 18.3, 18.1, 17.8, 17.6, 17.4, 17.2, 17.0, 16.8, 16.6, 16.4, 16.2, 16.0, 15.8, 15.7],
  [22.2, 22.0, 21.7, 21.9, 21.6, 21.4, 21.1, 21.3, 21.0, 20.8, 20.5, 20.7, 20.4, 20.2, 19.9, 20.1, 19.8, 19.6, 19.3, 19.5, 19.2, 19.0, 18.7, 18.9, 18.6, 18.4, 18.1, 18.3, 18.0, 17.8],
  [21.8, 21.6, 21.3, 21.1, 20.8, 21.0, 20.7, 20.5, 20.2, 20.0, 19.7, 19.9, 19.6, 19.4, 19.1, 18.9, 18.6, 18.8, 18.5, 18.3, 18.0, 17.8, 17.5, 17.7, 17.4, 17.2, 16.9, 16.7, 16.9, 16.6],
  [22.1, 21.9, 22.1, 21.8, 21.6, 21.3, 21.5, 21.2, 21.0, 20.7, 20.9, 20.6, 20.4, 20.1, 20.3, 20.0, 19.8, 19.5, 19.7, 19.4, 19.2, 18.9, 19.1, 18.8, 18.6, 18.3, 18.5, 18.2, 18.0, 18.1],
  [21.9, 21.7, 21.4, 21.2, 20.9, 20.7, 20.4, 20.6, 20.3, 20.1, 19.8, 19.6, 19.3, 19.1, 18.8, 19.0, 18.7, 18.5, 18.2, 18.0, 17.7, 17.5, 17.2, 17.4, 17.1, 16.9, 16.6, 16.4, 16.1, 15.9],
  [22.3, 22.1, 21.8, 21.6, 21.8, 21.5, 21.3, 21.0, 20.8, 21.0, 20.7, 20.5, 20.2, 20.0, 20.2, 19.9, 19.7, 19.4, 19.2, 19.4, 19.1, 18.9, 18.6, 18.4, 18.6, 18.3, 18.1, 17.8, 17.6, 17.4],
  [21.7, 21.5, 21.2, 21.0, 20.7, 20.5, 20.2, 20.0, 19.7, 19.9, 19.6, 19.4, 19.1, 18.9, 18.6, 18.4, 18.1, 18.3, 18.0, 17.8, 17.5, 17.3, 17.0, 16.8, 16.5, 16.7, 16.4, 16.2, 15.9, 15.6],
  [22.0, 22.2, 21.9, 21.7, 21.4, 21.6, 21.3, 21.1, 20.8, 20.6, 20.3, 20.5, 20.2, 20.0, 19.7, 19.5, 19.2, 19.4, 19.1, 18.9, 18.6, 18.4, 18.1, 18.3, 18.0, 17.8, 17.5, 17.3, 17.5, 17.2],
  [22.4, 22.2, 21.9, 21.7, 21.4, 21.2, 20.9, 20.7, 20.4, 20.2, 20.4, 20.1, 19.9, 19.6, 19.4, 19.1, 18.9, 18.6, 18.8, 18.5, 18.3, 18.0, 17.8, 17.5, 17.3, 17.5, 17.2, 17.0, 16.7, 16.9],
  [21.9, 21.6, 21.4, 21.1, 20.9, 20.6, 20.8, 20.5, 20.3, 20.0, 19.8, 19.5, 19.3, 19.0, 18.8, 18.5, 18.3, 18.0, 17.8, 17.5, 17.7, 17.4, 17.2, 16.9, 16.7, 16.4, 16.2, 15.9, 15.7, 15.4],
];
const MEAN_T_C = [0, 20, 40, 60, 80, 100, 120, 145];
const MEAN_C = [20.85, 20.15, 19.47, 18.81, 18.17, 17.56, 16.97, 16.25];

// layout (pixels)
const W = 602;
const H = 1217;
const PLOT_LEFT = 81;
const PLOT_WIDTH = 497;
const X_MAX = 147.3;
const LAYOUT = [
  { top: 14, height: 312, labelY: 24, boxTop: 4, nameY: 170, tY: 365 },
  { top: 420, height: 313, labelY: 426, boxTop: 403, nameY: 580, tY: 769 },
  { top: 858, height: 312, labelY: 824, boxTop: 807, nameY: 1016, tY: 1206 },
];

const BLUE = "#3446a8";
const RED = "#ef3e3e";
const AXIS = "#808080";
const SANS = "'DejaVu Sans', 'Liberation Sans', Arial, sans-serif";
const SERIF = "'Liberation Serif', 'DejaVu Serif', 'Times New Roman', serif";

export default function App() {
  const ref = useRef<HTMLDivElement>(null);

  useEffect(() => {
    document.body.style.margin = "0";
    if (!ref.current) return;
    const chart = echarts.init(ref.current, undefined, { renderer: "svg" });

    const paths = [PATHS_A, PATHS_B, PATHS_C];
    const meanT = [MEAN_T_A, MEAN_T_B, MEAN_T_C];
    const means = [MEAN_A, MEAN_B, MEAN_C];

    const grid: any[] = [];
    const xAxis: any[] = [];
    const yAxis: any[] = [];
    const series: any[] = [];
    const graphic: any[] = [];

    LAYOUT.forEach((L, i) => {
      grid.push({ left: PLOT_LEFT, width: PLOT_WIDTH, top: L.top, height: L.height });
      xAxis.push({
        type: "value", gridIndex: i, min: 0, max: X_MAX, position: "bottom",
        axisLine: { show: true, onZero: false, lineStyle: { color: AXIS, width: 1.3 } },
        axisTick: { show: true, inside: true, length: 5, customValues: X_TICKS, lineStyle: { color: AXIS, width: 1.2 } },
        axisLabel: { customValues: X_TICKS, margin: 8, fontSize: 17, color: "#222", fontFamily: SANS },
        splitLine: { show: false },
      });
      xAxis.push({
        type: "value", gridIndex: i, min: 0, max: X_MAX, position: "bottom",
        axisLine: { show: false, onZero: false },
        axisTick: { show: true, inside: true, length: 3, customValues: X_MINOR, lineStyle: { color: AXIS, width: 1 } },
        axisLabel: { show: false },
        splitLine: { show: false },
      });
      yAxis.push({
        type: "value", gridIndex: i, min: 8, max: 24, position: "left",
        axisLine: { show: true, onZero: false, lineStyle: { color: AXIS, width: 1.3 } },
        axisTick: { show: true, inside: true, length: 6, customValues: Y_TICKS, lineStyle: { color: AXIS, width: 1.2 } },
        axisLabel: { customValues: Y_TICKS, margin: 6, fontSize: 17, color: "#222", fontFamily: SANS },
        splitLine: { show: false },
      });
      yAxis.push({
        type: "value", gridIndex: i, min: 8, max: 24, position: "left",
        axisLine: { show: false, onZero: false },
        axisTick: { show: true, inside: true, length: 3, customValues: Y_MINOR, lineStyle: { color: AXIS, width: 1 } },
        axisLabel: { show: false },
        splitLine: { show: false },
      });

      paths[i].forEach((p) => {
        series.push({
          type: "line", xAxisIndex: 2 * i, yAxisIndex: 2 * i,
          data: p.map((v, k) => [MONTHS[k], v]),
          showSymbol: false, symbol: "none", silent: true, clip: true, z: 2,
          lineStyle: { color: BLUE, width: 1.3, opacity: 0.95 },
        });
      });
      series.push({
        type: "line", xAxisIndex: 2 * i, yAxisIndex: 2 * i,
        data: meanT[i].map((t, k) => [t, means[i][k]]),
        showSymbol: false, symbol: "none", silent: true, clip: true, z: 3,
        lineStyle: { color: RED, width: 3.6 },
      });

      const axisY = L.top + L.height;
      graphic.push(
        { type: "line", shape: { x1: 71, y1: axisY, x2: PLOT_LEFT, y2: axisY }, style: { stroke: AXIS, lineWidth: 1.3 } },
        { type: "text", x: 20, y: L.labelY, style: { text: PANEL_LABELS[i], font: `bold 21px ${SERIF}`, fill: "#111", textVerticalAlign: "middle" } },
        { type: "rect", shape: { x: 164.5, y: L.boxTop + 0.5, width: 319, height: 36 }, style: { fill: "#fff", stroke: BLUE, lineWidth: 1.5 } },
        { type: "text", x: 324, y: L.boxTop + 18.5, style: { text: TITLE, font: `16px ${SANS}`, fill: BLUE, textAlign: "center", textVerticalAlign: "middle" } },
        { type: "text", x: 8, y: L.nameY, style: { text: Y_NAME, font: `20px ${SANS}`, fill: "#222", textVerticalAlign: "middle" } },
        { type: "text", x: 329, y: L.tY, style: { text: X_NAME, font: `20px ${SANS}`, fill: "#222", textAlign: "center", textVerticalAlign: "middle" } },
      );
    });

    graphic.push(
      { type: "rect", shape: { x: 588, y: 5, width: 14, height: 95 }, style: { fill: "#c4c4c4" } },
      { type: "text", x: 595.5, y: 52, rotation: Math.PI / 2, style: { text: STAMP, font: `12px ${SERIF}`, fill: "#222", textAlign: "center", textVerticalAlign: "middle" } },
    );

    chart.setOption({
      animation: false,
      backgroundColor: "#fff",
      grid, xAxis, yAxis, series, graphic,
    });
    return () => chart.dispose();
  }, []);

  return <div ref={ref} style={{ width: W, height: H }} />;
}
